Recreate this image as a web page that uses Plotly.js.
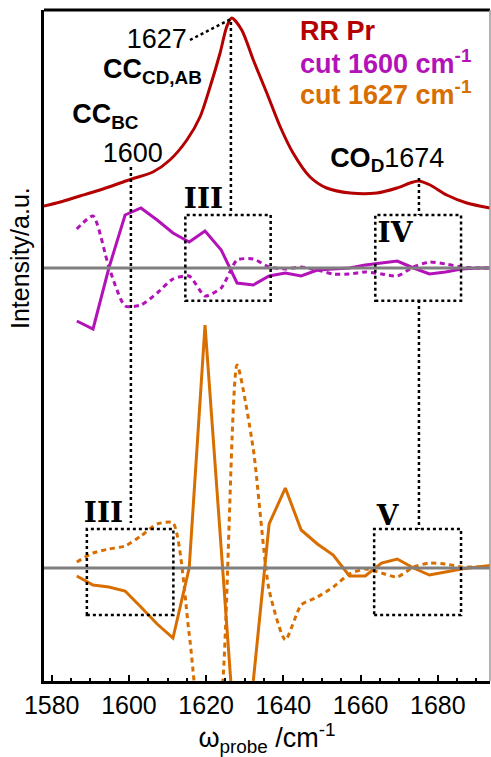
<!DOCTYPE html>
<html>
<head>
<meta charset="utf-8">
<script src="https://cdn.plot.ly/plotly-3.0.1.min.js"></script>
<style>html,body{margin:0;padding:0;background:#fff;}</style>
</head>
<body>
<div id="chart" style="width:491px;height:757px;"></div>
<script>
// ---- data (arbitrary intensity units) ----
const rrX = [1578.0, 1582.2, 1587.3, 1590.8, 1598.5, 1600.7, 1606.2, 1610.6, 1615.0, 1618.4, 1621.0, 1623.6, 1625.3, 1626.6, 1629.2, 1632.2, 1635.7, 1639.2, 1642.5, 1646.9, 1651.2, 1657.3, 1664.2, 1669.4, 1672.8, 1675.0, 1678.0, 1682.3, 1687.5, 1693.5];
const rrPr = [362, 366, 372, 376, 386, 389, 396, 408, 428, 451, 481, 515, 541, 550, 538, 508, 475, 441, 415, 391, 380, 375, 375, 380, 385, 387, 383, 373, 365, 360];

const probeX = [1586.5, 1590.7, 1594.8, 1599.0, 1603.1, 1607.3, 1611.4, 1615.6, 1619.7, 1623.9, 1628.0, 1632.2, 1636.3, 1640.5, 1644.6, 1648.8, 1652.9, 1657.1, 1661.2, 1665.4, 1669.5, 1673.7, 1677.8, 1682.0, 1686.1, 1690.3, 1694.4];
const cut1600Solid = [-53, -61, 0, 53, 60, 48, 35, 26, 37, 18, -15, -17, -8, -5, -8, -2, -1, 0, 3, 5, 7, 0, -6, -4, -1, 0, 0];
const cut1600Dotted = [39, 52, 1, -38, -37, -25, -11, -8, -28, -20, 8, 9, 1, -1, 1, -2, -6, -6, -4, -6, -8, 1, 6, 4, 1, 0, 0];
const cut1627Solid = [-8, -17, -19, -23, -39, -56, -70, 0, 243, 20, -200, -113, 44, 80, 38, 24, 13, -8, -8, 5, 9, 0, -7, -4, -1, 1, 3];
const cut1627Dotted = [6, 15, 19, 22, 32, 44, 45, -66, -200, -132, 203, 119, -22, -72, -37, -29, -19, -6, -1, -5, -9, 1, 5, 4, 1, 1, 1];

const offset1600 = 300;
const offset1627 = 0;

const xTickVals = [1580, 1600, 1620, 1640, 1660, 1680];

const cRed = '#b40000', cMag = '#b312b8', cOra = '#d86e00', cGray = '#7f7f7f';

const shift = (arr, off) => arr.map(v => v + off);

const sans = 'Liberation Sans, Arial, sans-serif';
const serif = 'DejaVu Serif, serif';

function label(text, x, y, pos, size, color, family) {
  return {x: [x], y: [y], text: [text], mode: 'text', textposition: pos, cliponaxis: false, hoverinfo: 'skip',
          textfont: {family: family || sans, size: size, color: color || '#000'}};
}

const traces = [
  {x: rrX, y: rrPr, mode: 'lines', line: {color: cRed, width: 3, shape: 'spline', smoothing: 0.8}, hoverinfo: 'skip'},
  {x: probeX, y: shift(cut1600Dotted, offset1600), mode: 'lines', line: {color: cMag, width: 3, dash: '5px,4px', shape: 'spline', smoothing: 0.6}},
  {x: probeX, y: shift(cut1600Solid, offset1600), mode: 'lines', line: {color: cMag, width: 3}},
  {x: probeX, y: shift(cut1627Dotted, offset1627), mode: 'lines', line: {color: cOra, width: 3, dash: '5px,4px', shape: 'spline', smoothing: 0.6}},
  {x: probeX, y: shift(cut1627Solid, offset1627), mode: 'lines', line: {color: cOra, width: 3}},
  label('<b>RR Pr</b>', 1644.3, 534.75, 'middle right', 27, cRed),
  label('<b>cut 1600 cm<sup>-1</sup></b>', 1644.3, 501.75, 'middle right', 27, cMag),
  label('<b>cut 1627 cm<sup>-1</sup></b>', 1644.3, 470.75, 'middle right', 27, cOra),
  label('1627', 1615.0, 526.75, 'middle left', 27),
  label('<b>CC<sub>CD,AB</sub></b>', 1593.3, 496.5, 'middle right', 27),
  label('<b>CC<sub>BC</sub></b>', 1585.3, 451.5, 'middle right', 27),
  label('1600', 1601.0, 413, 'middle center', 27),
  label('<b>CO<sub>D</sub></b>1674', 1652.1, 408, 'middle right', 27),
  label('<b>III</b>', 1619.3, 366.7, 'middle center', 28, '#000', serif),
  label('<b>IV</b>', 1668.9, 333.3, 'middle center', 28, '#000', serif),
  label('<b>III</b>', 1593.4, 53.3, 'middle center', 28, '#000', serif),
  label('<b>V</b>', 1667.0, 50, 'middle center', 28, '#000', serif)
];

const dotLine = {color: '#000', width: 2.5, dash: 'dot'};
const shapes = [
  // baselines
  {type: 'line', xref: 'paper', x0: 0, x1: 1, yref: 'y', y0: offset1600, y1: offset1600, line: {color: cGray, width: 3}},
  {type: 'line', xref: 'paper', x0: 0, x1: 1, yref: 'y', y0: offset1627, y1: offset1627, line: {color: cGray, width: 3}},
  // frame top/right
  {type: 'line', xref: 'paper', yref: 'paper', x0: 0, x1: 1, y0: 1, y1: 1, line: {color: '#000', width: 3}},
  {type: 'line', xref: 'paper', yref: 'paper', x0: 1, x1: 1, y0: 0, y1: 1, line: {color: '#999', width: 1.5}},
  // vertical guide lines
  {type: 'line', x0: 1600.5, x1: 1600.5, y0: 401, y1: 45, line: dotLine},
  {type: 'line', x0: 1626.4, x1: 1626.4, y0: 546, y1: 353, line: dotLine},
  {type: 'line', x0: 1615.8, x1: 1626.4, y0: 528, y1: 549, line: dotLine},
  {type: 'line', x0: 1675.1, x1: 1675.1, y0: 390, y1: 353, line: dotLine},
  {type: 'line', x0: 1675.1, x1: 1675.1, y0: 268, y1: 39, line: dotLine},
  // boxes
  {type: 'rect', x0: 1614.6, x1: 1636.7, y0: 267.3, y1: 353, line: dotLine},
  {type: 'rect', x0: 1663.8, x1: 1686.0, y0: 267.3, y1: 353, line: dotLine},
  {type: 'rect', x0: 1589.1, x1: 1611.5, y0: -47, y1: 39, line: dotLine},
  {type: 'rect', x0: 1663.5, x1: 1686.0, y0: -47, y1: 39, line: dotLine}
];

const annotations = [
  {text: 'Intensity/a.u.', xref: 'paper', yref: 'y', x: -0.0538, y: 310, textangle: -90, showarrow: false,
   xanchor: 'center', yanchor: 'middle', font: {family: sans, size: 25, color: '#000'}}
];

const layout = {
  width: 491, height: 757,
  margin: {l: 44, r: 1, t: 10, b: 76},
  paper_bgcolor: '#fff', plot_bgcolor: '#fff',
  font: {family: sans, size: 25, color: '#000'},
  showlegend: false,
  xaxis: {
    range: [1578, 1693.5], tickvals: xTickVals, ticktext: xTickVals.map(String),
    ticks: 'inside', ticklen: 6, tickwidth: 2, tickcolor: '#000',
    minor: {dtick: 5, tick0: 1580, ticks: 'inside', ticklen: 3, tickwidth: 2, tickcolor: '#000'},
    showline: true, linewidth: 3, linecolor: '#000', showgrid: false, zeroline: false,
    tickfont: {family: sans, size: 25, color: '#000'},
    title: {text: 'ω<sub>probe</sub> /cm<sup>-1</sup>', font: {family: sans, size: 27, color: '#000'}, standoff: 16}
  },
  yaxis: {
    range: [-113, 558], showticklabels: false, ticks: '', showline: true, linewidth: 3, linecolor: '#000',
    showgrid: false, zeroline: false
  },
  shapes: shapes,
  annotations: annotations
};

Plotly.newPlot('chart', traces, layout, {displayModeBar: false});
</script>
</body>
</html>
